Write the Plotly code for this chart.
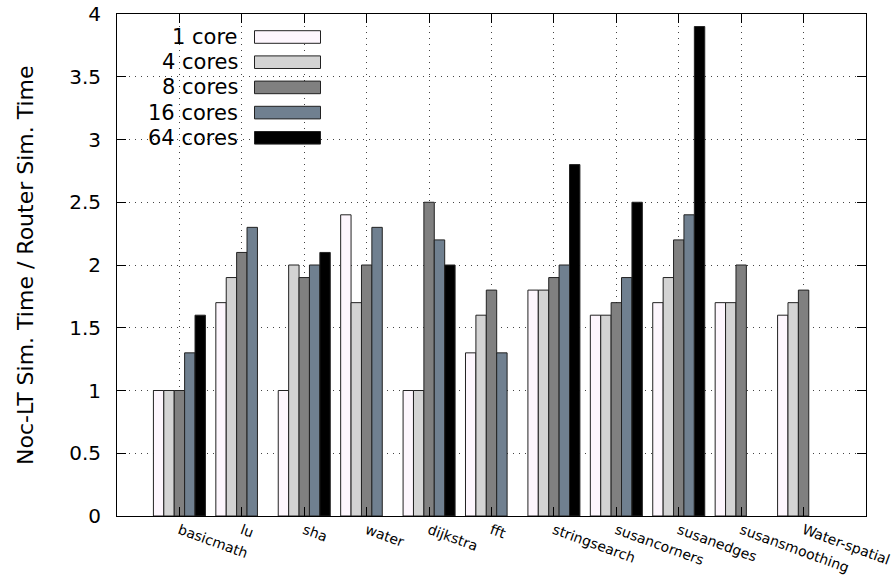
import plotly.graph_objects as go

benchmarks = ["basicmath", "lu", "sha", "water", "dijkstra", "fft", "stringsearch",
              "susancorners", "susanedges", "susansmoothing", "Water-spatial"]
series_names = ["1 core", "4 cores", "8 cores", "16 cores", "64 cores"]
core1 = [1.0, 1.7, 1.0, 2.4, 1.0, 1.3, 1.8, 1.6, 1.7, 1.7, 1.6]
core4 = [1.0, 1.9, 2.0, 1.7, 1.0, 1.6, 1.8, 1.6, 1.9, 1.7, 1.7]
core8 = [1.0, 2.1, 1.9, 2.0, 2.5, 1.8, 1.9, 1.7, 2.2, 2.0, 1.8]
core16 = [1.3, 2.3, 2.0, 2.3, 2.2, 1.3, 2.0, 1.9, 2.4, None, None]
core64 = [1.6, None, 2.1, None, 2.0, None, 2.8, 2.5, 3.9, None, None]
colors = ["#fdf6fd", "#d3d3d3", "#808080", "#708090", "#000000"]
ytick_vals = [0, 0.5, 1, 1.5, 2, 2.5, 3, 3.5, 4]
ytick_text = ["0", "0.5", "1", "1.5", "2", "2.5", "3", "3.5", "4"]
ylabel = "Noc-LT Sim. Time / Router Sim. Time"

FONT = "DejaVu Sans"
W, H = 895, 576
L, R, T, B = 117, 29, 14, 60
PW, PH = W - L - R, H - T - B

fig = go.Figure()
xs = list(range(len(benchmarks)))
for name, vals, col in zip(series_names, [core1, core4, core8, core16, core64], colors):
    fig.add_trace(go.Bar(
        x=xs, y=vals, name=name,
        marker=dict(color=col, line=dict(color="#222222", width=1)),
        showlegend=False,
    ))

# custom gnuplot-style legend: text then swatch
def px2paper_x(px):
    return (px - L) / PW

def px2paper_y(py):
    return (T + PH - py) / PH

text_right = 240
sw_x0, sw_x1 = 254.5, 320.5
row0, row_step, sw_h = 37, 25.2, 12.6
for i, (name, col) in enumerate(zip(series_names, colors)):
    cy = row0 + i * row_step
    fig.add_annotation(
        x=px2paper_x(text_right), y=px2paper_y(cy), xref="paper", yref="paper",
        text=name, showarrow=False, xanchor="right", yanchor="middle",
        font=dict(family=FONT, size=21, color="black"),
    )
    fig.add_shape(
        type="rect", xref="paper", yref="paper",
        x0=px2paper_x(sw_x0), x1=px2paper_x(sw_x1),
        y0=px2paper_y(cy - sw_h / 2), y1=px2paper_y(cy + sw_h / 2),
        fillcolor=col, line=dict(color="#222222", width=1),
    )

fig.add_annotation(
    x=0, y=0.5, xref="paper", yref="paper", xshift=-92,
    text=ylabel, textangle=-90, showarrow=False,
    xanchor="center", yanchor="middle",
    font=dict(family=FONT, size=22, color="black"),
)

fig.update_layout(
    width=W, height=H,
    margin=dict(l=L, r=R, t=T, b=B, autoexpand=False),
    paper_bgcolor="white", plot_bgcolor="white",
    barmode="group", bargap=1/6, bargroupgap=0,
    font=dict(family=FONT, color="black"),
)
fig.update_xaxes(
    range=[-1, 11], tickmode="array", tickvals=xs, ticktext=benchmarks,
    tickangle=20, tickfont=dict(family=FONT, size=14),
    ticks="inside", ticklen=9, tickcolor="black", mirror="allticks",
    showline=True, linecolor="black", linewidth=1,
    showgrid=True, gridcolor="#444444", gridwidth=1, griddash="1px,5px",
    zeroline=False, automargin=False,
)
fig.update_yaxes(
    range=[0, 4], tickmode="array", tickvals=ytick_vals, ticktext=ytick_text,
    tickfont=dict(family=FONT, size=20), ticklabelstandoff=11,
    ticks="inside", ticklen=9, tickcolor="black", mirror="allticks",
    showline=True, linecolor="black", linewidth=1,
    showgrid=True, gridcolor="#444444", gridwidth=1, griddash="1px,5px",
    zeroline=False, automargin=False,
)

fig.write_html("out.html")
